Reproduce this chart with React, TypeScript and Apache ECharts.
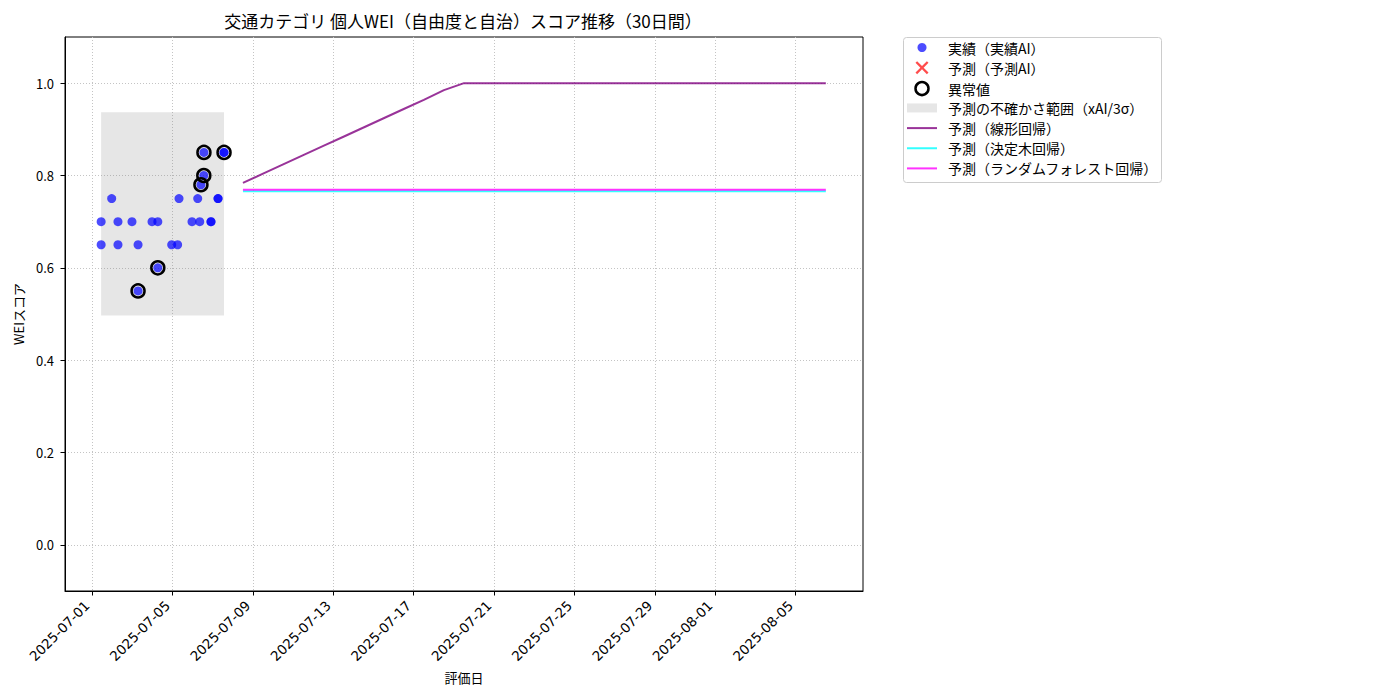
import React, { useEffect, useRef } from 'react';
import * as echarts from 'echarts';

const FONT = '"Noto Sans CJK JP", "Noto Sans", sans-serif';
const TICK_FONT = '"DejaVu Sans", sans-serif';

const titleText = '交通カテゴリ 個人WEI（自由度と自治）スコア推移（30日間）';
const xAxisName = '評価日';
const yAxisName = 'WEIスコア';

const actualName = '実績（実績AI）';
const predAiName = '予測（予測AI）';
const anomalyName = '異常値';
const bandName = '予測の不確かさ範囲（xAI/3σ）';
const linearName = '予測（線形回帰）';
const treeName = '予測（決定木回帰）';
const forestName = '予測（ランダムフォレスト回帰）';

// actual evaluations (実績AI)
const actualDates = [
  '2025-07-01 10:55', '2025-07-01 10:55', '2025-07-01 23:30', '2025-07-02 07:00',
  '2025-07-02 07:00', '2025-07-02 23:45', '2025-07-03 07:00', '2025-07-03 07:00',
  '2025-07-03 23:40', '2025-07-04 06:35', '2025-07-04 06:35', '2025-07-04 23:10',
  '2025-07-05 06:15', '2025-07-05 07:55', '2025-07-05 23:25', '2025-07-06 06:15',
  '2025-07-06 08:40', '2025-07-06 10:05', '2025-07-06 13:30', '2025-07-06 13:40',
  '2025-07-06 22:05', '2025-07-06 22:05', '2025-07-07 06:30', '2025-07-07 06:30',
  '2025-07-07 13:40', '2025-07-07 13:40',
];
const actualValues = [
  0.70, 0.65, 0.75, 0.70,
  0.65, 0.70, 0.65, 0.55,
  0.70, 0.70, 0.60, 0.65,
  0.65, 0.75, 0.70, 0.75,
  0.70, 0.78, 0.80, 0.85,
  0.70, 0.70, 0.75, 0.75,
  0.85, 0.85,
];

// anomalies
const anomalyDates = [
  '2025-07-03 07:00', '2025-07-04 06:35', '2025-07-06 10:05',
  '2025-07-06 13:30', '2025-07-06 13:40', '2025-07-07 13:40',
];
const anomalyValues = [0.55, 0.60, 0.78, 0.80, 0.85, 0.85];

// uncertainty band
const bandDates = ['2025-07-01 10:55', '2025-07-07 13:40'];
const bandValues = [0.497, 0.937];

// forecasts
const predDates = [
  '2025-07-08 12:15', '2025-07-09 12:15', '2025-07-10 12:15', '2025-07-11 12:15',
  '2025-07-12 12:15', '2025-07-13 12:15', '2025-07-14 12:15', '2025-07-15 12:15',
  '2025-07-16 12:15', '2025-07-17 12:15', '2025-07-18 12:15', '2025-07-19 12:15',
  '2025-07-20 12:15', '2025-07-21 12:15', '2025-07-22 12:15', '2025-07-23 12:15',
  '2025-07-24 12:15', '2025-07-25 12:15', '2025-07-26 12:15', '2025-07-27 12:15',
  '2025-07-28 12:15', '2025-07-29 12:15', '2025-07-30 12:15', '2025-07-31 12:15',
  '2025-08-01 12:15', '2025-08-02 12:15', '2025-08-03 12:15', '2025-08-04 12:15',
  '2025-08-05 12:15', '2025-08-06 12:15',
];
const linearValues = [
  0.784, 0.804, 0.824, 0.844, 0.864, 0.884, 0.904, 0.924, 0.944, 0.964,
  0.985, 1.0, 1.0, 1.0, 1.0, 1.0, 1.0, 1.0, 1.0, 1.0,
  1.0, 1.0, 1.0, 1.0, 1.0, 1.0, 1.0, 1.0, 1.0, 1.0,
];
const treeValues = [
  0.766, 0.766, 0.766, 0.766, 0.766, 0.766, 0.766, 0.766, 0.766, 0.766,
  0.766, 0.766, 0.766, 0.766, 0.766, 0.766, 0.766, 0.766, 0.766, 0.766,
  0.766, 0.766, 0.766, 0.766, 0.766, 0.766, 0.766, 0.766, 0.766, 0.766,
];
const forestValues = [
  0.769, 0.769, 0.769, 0.769, 0.769, 0.769, 0.769, 0.769, 0.769, 0.769,
  0.769, 0.769, 0.769, 0.769, 0.769, 0.769, 0.769, 0.769, 0.769, 0.769,
  0.769, 0.769, 0.769, 0.769, 0.769, 0.769, 0.769, 0.769, 0.769, 0.769,
];

const xTickLabels = [
  '2025-07-01', '2025-07-05', '2025-07-09', '2025-07-13', '2025-07-17',
  '2025-07-21', '2025-07-25', '2025-07-29', '2025-08-01', '2025-08-05',
];
const yTickValues = [0.0, 0.2, 0.4, 0.6, 0.8, 1.0];
const xRange = ['2025-06-29 15:46', '2025-08-08 08:38'];
const yRange = [-0.1, 1.1];

const ts = (s: string) => new Date(s.length > 10 ? s.replace(' ', 'T') : s + 'T00:00').getTime();
const pad = (n: number) => String(n).padStart(2, '0');
const fmtDate = (v: number) => {
  const d = new Date(v);
  return `${d.getFullYear()}-${pad(d.getMonth() + 1)}-${pad(d.getDate())}`;
};

const BLUE = 'rgba(0,0,255,0.7)';
const RED = 'rgba(255,0,0,0.7)';
const PURPLE = 'rgba(128,0,128,0.8)';
const CYAN = 'rgba(0,255,255,0.8)';
const MAGENTA = 'rgba(255,0,255,0.8)';
const BAND = 'rgba(128,128,128,0.2)';
const X_SYMBOL = 'path://M1.5,0L6,4.5L10.5,0L12,1.5L7.5,6L12,10.5L10.5,12L6,7.5L1.5,12L0,10.5L4.5,6L0,1.5Z';
const LINE_ICON = 'path://M0,0L30,0L30,2L0,2Z';

const App: React.FC = () => {
  const chartRef = useRef<HTMLDivElement>(null);

  useEffect(() => {
    if (!chartRef.current) return;
    const chart = echarts.init(chartRef.current, null, { renderer: 'svg' });

    // w = drawn width of the icon, so every row's text starts at the same x
    const legendRows = [
      { name: actualName, icon: 'circle', h: 9, w: 9, itemStyle: { color: BLUE, borderWidth: 0, opacity: 1 } },
      { name: predAiName, icon: X_SYMBOL, h: 13, w: 13, itemStyle: { color: RED, borderWidth: 0, opacity: 1 } },
      { name: anomalyName, icon: 'circle', h: 13, w: 15.5, itemStyle: { color: 'rgba(0,0,0,0)', borderColor: '#000', borderWidth: 2.5, opacity: 1 } },
      { name: bandName, icon: 'rect', h: 9, w: 30, itemStyle: { color: BAND, borderWidth: 0 } },
      { name: linearName, icon: LINE_ICON, h: 9, w: 30, itemStyle: { color: PURPLE, borderWidth: 0 } },
      { name: treeName, icon: LINE_ICON, h: 9, w: 30, itemStyle: { color: CYAN, borderWidth: 0 } },
      { name: forestName, icon: LINE_ICON, h: 9, w: 30, itemStyle: { color: MAGENTA, borderWidth: 0 } },
    ];

    const xTicks = xTickLabels.map(ts);

    const option = {
      animation: false,
      textStyle: { fontFamily: FONT },
      title: {
        text: titleText,
        left: 463,
        top: 12,
        padding: 0,
        textAlign: 'center',
        textStyle: { fontSize: 17, fontWeight: 'normal', color: '#000', fontFamily: FONT },
      },
      graphic: [
        {
          type: 'rect',
          left: 903,
          top: 37,
          shape: { width: 258, height: 145, r: 3 },
          style: { fill: '#fff', stroke: '#cccccc', lineWidth: 1 },
          z: 0,
        },
      ],
      legend: legendRows.map((r, i) => ({
        data: [{ name: r.name, icon: r.icon, itemStyle: r.itemStyle }],
        left: 907 + (30 - r.w) / 2,
        top: 47.5 + i * 20.15 - Math.max(r.h, 14) / 2,
        itemWidth: 30,
        itemHeight: r.h,
        padding: 0,
        selectedMode: false,
        textStyle: { fontSize: 14, fontFamily: FONT, color: '#000', padding: [0, 0, 0, 6] },
      })),
      grid: {
        left: 65,
        right: 537,
        top: 37,
        bottom: 109,
        show: true,
        borderColor: '#000',
        borderWidth: 1,
        containLabel: false,
      },
      xAxis: {
        type: 'value',
        min: ts(xRange[0]),
        max: ts(xRange[1]),
        name: xAxisName,
        nameLocation: 'middle',
        nameGap: 78,
        nameTextStyle: { fontSize: 13, color: '#000', fontFamily: FONT },
        axisLine: { show: true, onZero: false, lineStyle: { color: '#000', width: 1 } },
        axisTick: {
          show: true,
          length: 4.5,
          customValues: xTicks,
          lineStyle: { color: '#000' },
        },
        axisLabel: {
          customValues: xTicks,
          rotate: 45,
          margin: 17,
          verticalAlign: 'bottom',
          fontSize: 13.5,
          color: '#000',
          fontFamily: TICK_FONT,
          formatter: (v: number) => fmtDate(v),
        },
        splitLine: { show: true, lineStyle: { color: '#c4c4c4', type: [1, 2], width: 1 } },
      },
      yAxis: {
        type: 'value',
        min: yRange[0],
        max: yRange[1],
        name: yAxisName,
        nameLocation: 'middle',
        nameGap: 40,
        nameTextStyle: { fontSize: 13, color: '#000', fontFamily: FONT },
        axisLine: { show: true, onZero: false, lineStyle: { color: '#000', width: 1 } },
        axisTick: {
          show: true,
          length: 4.5,
          customValues: yTickValues,
          lineStyle: { color: '#000' },
        },
        axisLabel: {
          customValues: yTickValues,
          margin: 11,
          fontSize: 13,
          color: '#000',
          fontFamily: FONT,
          formatter: (v: number) => v.toFixed(1),
        },
        splitLine: { show: true, lineStyle: { color: '#c4c4c4', type: [1, 2], width: 1 } },
      },
      series: [
        {
          name: bandName,
          type: 'custom',
          z: 1,
          itemStyle: { color: BAND },
          encode: { x: [0, 1], y: [2, 3] },
          data: [[ts(bandDates[0]), ts(bandDates[1]), bandValues[0], bandValues[1]]],
          renderItem: (_params: any, api: any) => {
            const p0 = api.coord([api.value(0), api.value(3)]);
            const p1 = api.coord([api.value(1), api.value(2)]);
            return {
              type: 'rect',
              shape: { x: p0[0], y: p0[1], width: p1[0] - p0[0], height: p1[1] - p0[1] },
              style: { fill: BAND },
            };
          },
        },
        {
          name: linearName,
          type: 'line',
          z: 3,
          symbol: 'none',
          showSymbol: false,
          itemStyle: { color: PURPLE },
          lineStyle: { color: PURPLE, width: 2 },
          data: predDates.map((d, i) => [ts(d), linearValues[i]]),
        },
        {
          name: treeName,
          type: 'line',
          z: 3,
          symbol: 'none',
          showSymbol: false,
          itemStyle: { color: CYAN },
          lineStyle: { color: CYAN, width: 2 },
          data: predDates.map((d, i) => [ts(d), treeValues[i]]),
        },
        {
          name: forestName,
          type: 'line',
          z: 3,
          symbol: 'none',
          showSymbol: false,
          itemStyle: { color: MAGENTA },
          lineStyle: { color: MAGENTA, width: 2 },
          data: predDates.map((d, i) => [ts(d), forestValues[i]]),
        },
        {
          name: actualName,
          type: 'scatter',
          z: 4,
          symbol: 'circle',
          symbolSize: 9,
          itemStyle: { color: BLUE, opacity: 1 },
          data: actualDates.map((d, i) => [ts(d), actualValues[i]]),
        },
        {
          name: predAiName,
          type: 'scatter',
          z: 4,
          symbol: X_SYMBOL,
          symbolSize: 12,
          itemStyle: { color: RED, opacity: 1 },
          data: [],
        },
        {
          name: anomalyName,
          type: 'scatter',
          z: 5,
          symbol: 'circle',
          symbolSize: 13,
          itemStyle: { color: 'rgba(0,0,0,0)', borderColor: '#000', borderWidth: 2.5, opacity: 1 },
          data: anomalyDates.map((d, i) => [ts(d), anomalyValues[i]]),
        },
      ],
    };

    chart.setOption(option as any);

    return () => {
      chart.dispose();
    };
  }, []);

  return (
    <div
      ref={chartRef}
      style={{ position: 'fixed', left: 0, top: 0, width: '1400px', height: '700px', background: '#fff' }}
    />
  );
};

export default App;
